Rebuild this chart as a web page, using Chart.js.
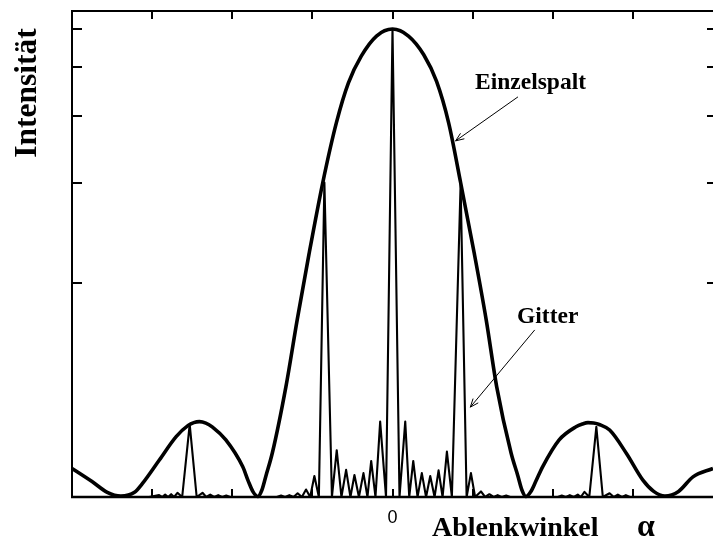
<!DOCTYPE html>
<html><head><meta charset="utf-8">
<script src="https://cdn.jsdelivr.net/npm/chart.js@4/dist/chart.umd.min.js"></script>
<style>html,body{margin:0;padding:0;background:#fff;}canvas{display:block;}</style>
</head><body>
<canvas id="c" width="713" height="540"></canvas>
<script>
// ---- data (x: Ablenkwinkel in tick units, y: intensity, central max = 1) ----
const envAngle = [-4.00,-3.75,-3.56,-3.39,-3.22,-3.12,-2.91,-2.70,-2.55,-2.48,-2.41,-2.33,-2.25,-2.08,-1.87,-1.80,-1.74,-1.68,-1.63,-1.58,-1.50,-1.33,-1.19,-1.04,-0.87,-0.70,-0.55,-0.39,-0.20,0,
                  0.20,0.39,0.55,0.70,0.85,1.02,1.17,1.30,1.48,1.565,1.615,1.665,1.725,1.79,1.875,2.08,2.29,2.37,2.44,2.51,2.58,2.71,2.92,3.125,3.26,3.40,3.57,3.75,4.00];
const envIntensity = [0.061,0.033,0.010,0.002,0.010,0.029,0.079,0.129,0.153,0.159,0.161,0.158,0.150,0.122,0.065,0.034,0.011,0.001,0.015,0.045,0.094,0.236,0.378,0.521,0.672,0.800,0.885,0.942,0.985,1.000,
                  0.985,0.945,0.888,0.800,0.672,0.521,0.378,0.236,0.094,0.045,0.015,0.001,0.011,0.034,0.065,0.122,0.150,0.156,0.159,0.158,0.155,0.143,0.093,0.036,0.012,0.002,0.012,0.043,0.061];

const gitAngle = [-4.0,-3.0375,-2.9125,-2.875,-2.8375,-2.8,-2.7625,-2.725,-2.684,-2.625,-2.531,-2.444,-2.371,-2.325,-2.275,-2.225,-2.175,-2.125,-2.075,-2.025,
                  -1.444,-1.391,-1.340,-1.2875,-1.235,-1.184,-1.131,-1.079,-1.0275,-0.975,-0.919,-0.85,-0.756,-0.696,-0.6375,-0.579,-0.525,-0.475,-0.419,-0.3625,-0.3125,-0.266,-0.2125,-0.154,-0.081,
                  0,0.0875,0.159,0.209,0.259,0.3125,0.366,0.419,0.471,0.525,0.575,0.625,0.679,0.741,0.85,0.925,0.979,1.031,1.104,1.156,1.209,1.2625,1.3125,1.3625,1.419,1.469,
                  2.0625,2.1125,2.1625,2.2125,2.2625,2.3125,2.35,2.396,2.456,2.544,2.625,2.709,2.7625,2.8125,2.8625,2.9125,2.9625,4.0];
const gitIntensity = [0,0,0.004,0,0.005,0,0.006,0,0.009,0,0.155,0,0.009,0,0.005,0,0.004,0,0.003,0,
                  0,0.003,0,0.004,0,0.008,0,0.016,0,0.045,0,0.672,0,0.100,0,0.058,0,0.047,0,0.051,0,0.077,0,0.161,0,
                  1.000,0,0.161,0,0.077,0,0.051,0,0.045,0,0.057,0,0.097,0,0.669,0,0.051,0,0.012,0,0.006,0,0.004,0,0.003,0,
                  0,0.003,0,0.004,0,0.005,0,0.011,0,0.150,0,0.008,0,0.005,0,0.004,0,0];

const xTickValues = [-3,-2,-1,0,1,2,3];
const xTickLabels = ['','','','0','','',''];
const yTickValues = [0.458,0.672,0.814,0.918,1.000];
const seriesNames = ['Einzelspalt','Gitter'];
const yTitle = 'Intensität';
const xTitle = 'Ablenkwinkel';
const xSymbol = 'α';

const toPts = (xs, ys) => xs.map((v, i) => ({x: v, y: ys[i]}));

const SERIF = '"Liberation Serif", "Times New Roman", serif';

function arrow(ctx, x1, y1, x2, y2) {
  ctx.beginPath(); ctx.moveTo(x1, y1); ctx.lineTo(x2, y2); ctx.stroke();
  const a = Math.atan2(y2 - y1, x2 - x1), L = 9, w = 0.38;
  ctx.beginPath();
  ctx.moveTo(x2 - L * Math.cos(a - w), y2 - L * Math.sin(a - w));
  ctx.lineTo(x2, y2);
  ctx.lineTo(x2 - L * Math.cos(a + w), y2 - L * Math.sin(a + w));
  ctx.stroke();
}

const frame = {
  id: 'frame',
  afterDraw(chart) {
    const {ctx, chartArea: a, scales: {x, y}} = chart;
    ctx.save();
    ctx.strokeStyle = '#000'; ctx.fillStyle = '#000'; ctx.lineCap = 'butt';
    // box
    ctx.lineWidth = 2;
    ctx.beginPath();
    ctx.moveTo(a.left, a.bottom); ctx.lineTo(a.left, a.top); ctx.lineTo(a.right + 2, a.top);
    ctx.stroke();
    ctx.lineWidth = 2.5;
    ctx.beginPath(); ctx.moveTo(a.left - 1, a.bottom); ctx.lineTo(a.right + 2, a.bottom); ctx.stroke();
    // inward ticks
    ctx.lineWidth = 2;
    xTickValues.forEach(v => {
      const px = Math.round(x.getPixelForValue(v));
      ctx.beginPath(); ctx.moveTo(px, a.bottom); ctx.lineTo(px, a.bottom - 8); ctx.stroke();
      ctx.beginPath(); ctx.moveTo(px, a.top); ctx.lineTo(px, a.top + 8); ctx.stroke();
    });
    yTickValues.forEach(v => {
      const py = Math.round(y.getPixelForValue(v));
      ctx.beginPath(); ctx.moveTo(a.left, py); ctx.lineTo(a.left + 10, py); ctx.stroke();
      ctx.beginPath(); ctx.moveTo(a.right, py); ctx.lineTo(a.right - 6, py); ctx.stroke();
    });
    // tick labels
    ctx.font = '18px "Liberation Sans", Arial, sans-serif';
    ctx.textAlign = 'center'; ctx.textBaseline = 'alphabetic';
    xTickValues.forEach((v, i) => {
      if (xTickLabels[i]) ctx.fillText(xTickLabels[i], x.getPixelForValue(v), 523);
    });
    // axis titles
    ctx.save();
    ctx.translate(36, 93); ctx.rotate(-Math.PI / 2);
    ctx.font = 'bold 31.5px ' + SERIF; ctx.textAlign = 'center';
    ctx.fillText(yTitle, 0, 0);
    ctx.restore();
    ctx.textAlign = 'left';
    ctx.font = 'bold 28px ' + SERIF;
    ctx.fillText(xTitle, 432, 536);
    ctx.font = 'bold 32px ' + SERIF;
    ctx.fillText(xSymbol, 637, 536);
    // annotations
    ctx.font = 'bold 23.5px ' + SERIF;
    ctx.fillText(seriesNames[0], 475, 89);
    ctx.fillText(seriesNames[1], 517, 322.5);
    ctx.lineWidth = 1;
    arrow(ctx, x.getPixelForValue(1.566), y.getPixelForValue(0.855), x.getPixelForValue(0.7875), y.getPixelForValue(0.761));
    arrow(ctx, x.getPixelForValue(1.775), y.getPixelForValue(0.357), x.getPixelForValue(0.971), y.getPixelForValue(0.192));
    ctx.restore();
  }
};

new Chart(document.getElementById('c'), {
  type: 'scatter',
  data: {
    datasets: [
      { label: seriesNames[0], data: toPts(envAngle, envIntensity), showLine: true, borderColor: '#000',
        borderWidth: 3.6, pointRadius: 0, cubicInterpolationMode: 'monotone', clip: false },
      { label: seriesNames[1], data: toPts(gitAngle, gitIntensity), showLine: true, borderColor: '#000',
        borderWidth: 2.1, pointRadius: 0, tension: 0, clip: false, borderJoinStyle: 'round' }
    ]
  },
  options: {
    responsive: false, animation: false, devicePixelRatio: 1,
    layout: { padding: { left: 72, top: 11, right: 0, bottom: 43 } },
    scales: {
      x: { type: 'linear', min: -4, max: 4, display: false },
      y: { type: 'linear', min: 0, max: 1.0385, display: false }
    },
    plugins: { legend: { display: false }, tooltip: { enabled: false } }
  },
  plugins: [frame]
});
</script>
</body></html>
